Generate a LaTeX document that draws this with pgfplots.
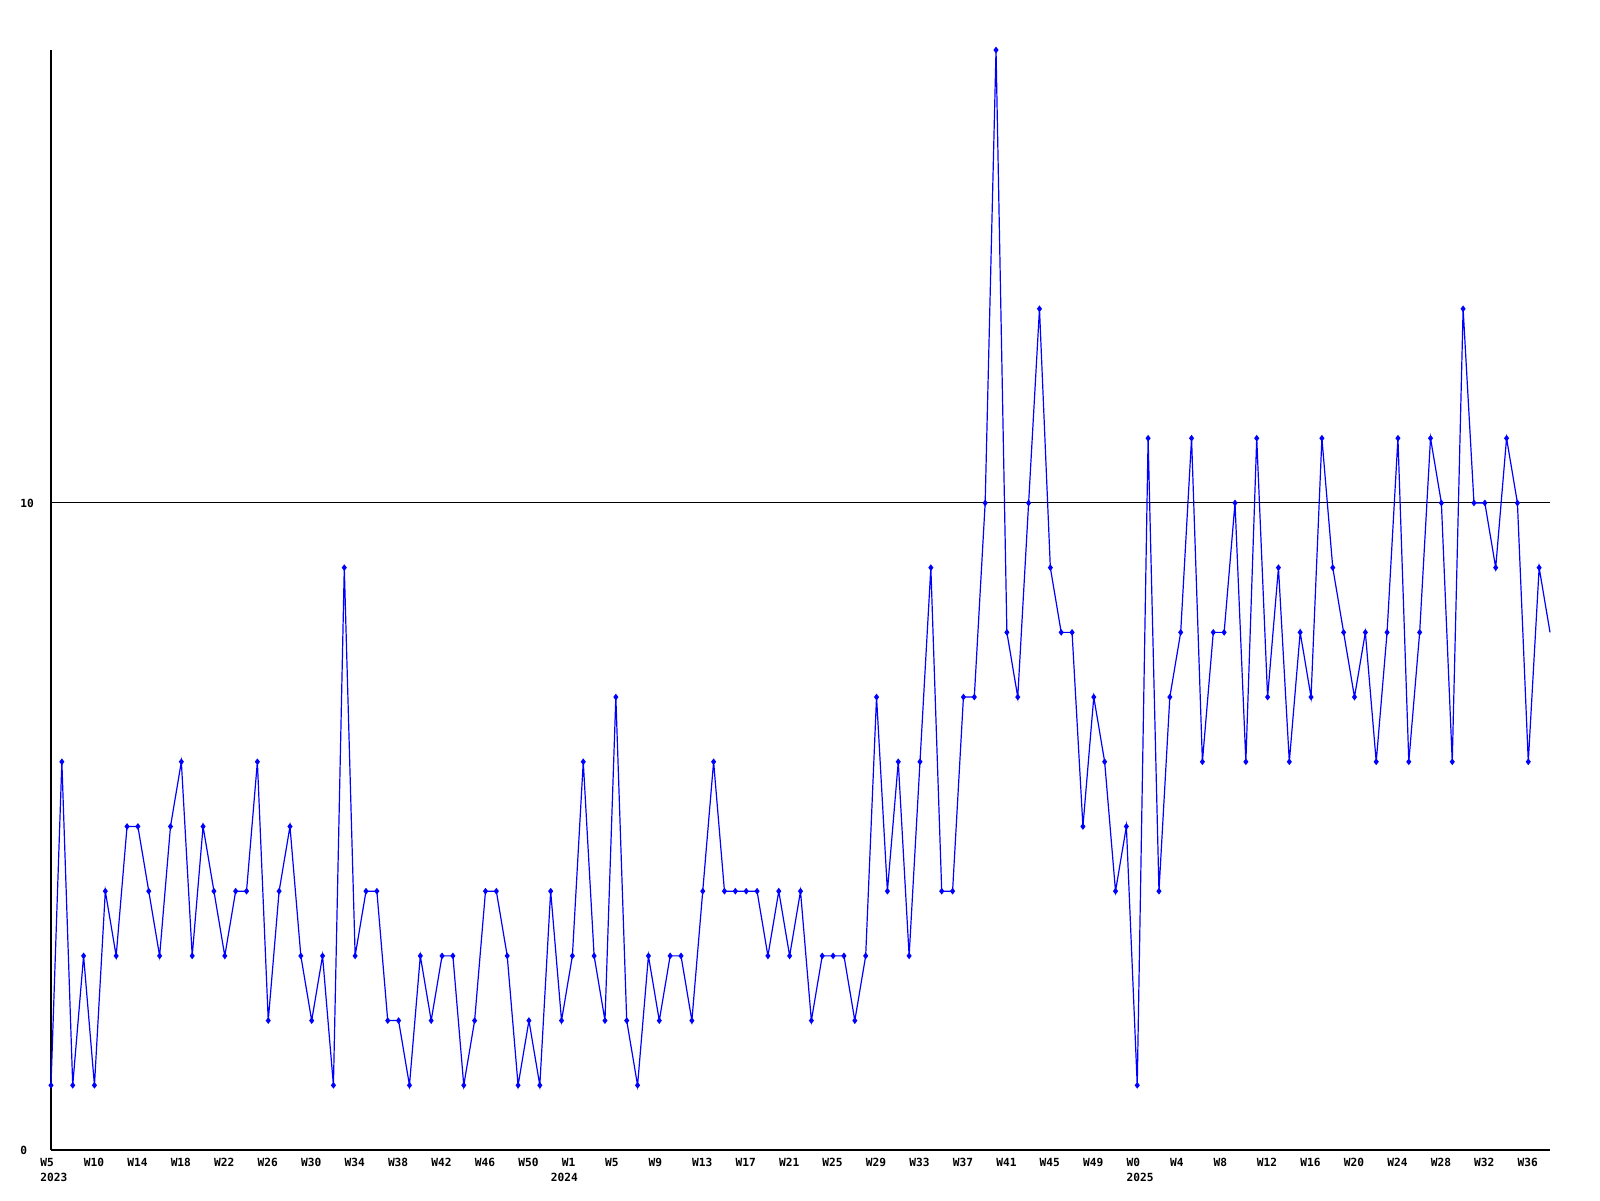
\documentclass[border=0pt]{standalone}
\usepackage{pgfplots}
\pgfplotsset{compat=1.18}
\usepackage{fontspec}
\setmonofont{DejaVu Sans Mono}
\definecolor{lineblue}{RGB}{0,0,255}
\begin{document}
\begin{tikzpicture}
\path[use as bounding box] (0,0) rectangle (800pt,600pt);
\begin{axis}[
  at={(25.5pt,25pt)}, anchor=south west,
  scale only axis, width=749.5pt, height=550pt,
  xmin=0, xmax=138, ymin=0, ymax=17,
  axis x line=bottom, axis y line=left,
  axis line style={-, line width=0.6pt, black},
  ytick={0,10}, yticklabels={0,10},
  ymajorgrids, grid style={black, line width=0.5pt},
  major tick length=0pt,
  xtick={0,4,...,136},
  xticklabels={{W5\\2023},W10,W14,W18,W22,W26,W30,W34,W38,W42,W46,W50,{W1\\\hspace*{-5.5pt}2024},W5,W9,W13,W17,W21,W25,W29,W33,W37,W41,W45,W49,{W0\\2025},W4,W8,W12,W16,W20,W24,W28,W32,W36},
  tick label style={font=\ttfamily\bfseries\fontsize{5.6}{7.5}\selectfont},
  xticklabel style={anchor=north west, inner sep=0pt, align=left, xshift=-5.5pt, yshift=-4pt},
  yticklabel style={anchor=west, inner sep=0pt, xshift=-15.5pt},
  clip=false,
]
\addplot[color=lineblue, line width=0.6pt, mark=diamond*, mark size=1.2pt, mark indices={1,...,138}, mark options={solid, fill=lineblue}] table {
x y
0 1
1 6
2 1
3 3
4 1
5 4
6 3
7 5
8 5
9 4
10 3
11 5
12 6
13 3
14 5
15 4
16 3
17 4
18 4
19 6
20 2
21 4
22 5
23 3
24 2
25 3
26 1
27 9
28 3
29 4
30 4
31 2
32 2
33 1
34 3
35 2
36 3
37 3
38 1
39 2
40 4
41 4
42 3
43 1
44 2
45 1
46 4
47 2
48 3
49 6
50 3
51 2
52 7
53 2
54 1
55 3
56 2
57 3
58 3
59 2
60 4
61 6
62 4
63 4
64 4
65 4
66 3
67 4
68 3
69 4
70 2
71 3
72 3
73 3
74 2
75 3
76 7
77 4
78 6
79 3
80 6
81 9
82 4
83 4
84 7
85 7
86 10
87 17
88 8
89 7
90 10
91 13
92 9
93 8
94 8
95 5
96 7
97 6
98 4
99 5
100 1
101 11
102 4
103 7
104 8
105 11
106 6
107 8
108 8
109 10
110 6
111 11
112 7
113 9
114 6
115 8
116 7
117 11
118 9
119 8
120 7
121 8
122 6
123 8
124 11
125 6
126 8
127 11
128 10
129 6
130 13
131 10
132 10
133 9
134 11
135 10
136 6
137 9
138 8
};
\end{axis}
\end{tikzpicture}
\end{document}
